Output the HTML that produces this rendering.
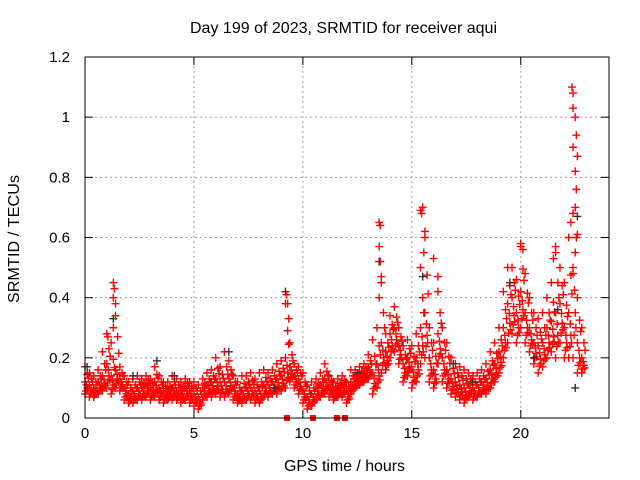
<!DOCTYPE html>
<html><head><meta charset="utf-8"><style>
body{margin:0;background:#fff}
svg{display:block;font-family:"Liberation Sans",sans-serif}
</style></head><body>
<svg id="c" width="640" height="480">
<text x="343.5" y="33" font-size="16" text-anchor="middle" textLength="307">Day 199 of 2023, SRMTID for receiver aqui</text>
<text x="344.5" y="471" font-size="16" text-anchor="middle" textLength="121">GPS time / hours</text>
<text transform="translate(19,239) rotate(-90)" font-size="16" text-anchor="middle" textLength="128">SRMTID / TECUs</text>
<g id="grid"></g><g id="marks"></g><g id="axes"></g>
</svg>
<script>
const xTicks=[0,5,10,15,20];
const yTicks=[0,0.2,0.4,0.6,0.8,1,1.2];
const yTickLabels=["0","0.2","0.4","0.6","0.8","1","1.2"];
const tStep=0.2;
const lo=[.08,.07,.07,.08,.09,.10,.08,.10,.09,.06,.05,.05,.06,.06,.07,.06,.07,.06,.05,.06,.06,.06,.05,.06,.05,.04,.03,.06,.07,.07,.08,.07,.07,.08,.06,.05,.05,.06,.06,.05,.05,.07,.07,.08,.08,.09,.10,.12,.10,.08,.05,.03,.04,.06,.07,.08,.07,.06,.07,.07,.05,.08,.10,.11,.12,.13,.08,.10,.15,.16,.20,.22,.18,.12,.14,.10,.12,.18,.20,.12,.10,.18,.12,.10,.08,.07,.06,.05,.07,.06,.07,.08,.08,.10,.12,.15,.20,.25,.28,.25,.30,.25,.22,.18,.15,.17,.20,.22,.20,.25,.20,.20,.20,.15,.15];
const mid=[.12,.11,.10,.12,.14,.18,.14,.16,.13,.10,.08,.09,.10,.10,.11,.10,.12,.10,.09,.09,.10,.09,.09,.10,.09,.08,.07,.10,.11,.12,.13,.12,.12,.13,.10,.08,.09,.10,.10,.09,.09,.11,.11,.12,.13,.14,.20,.17,.14,.13,.09,.07,.08,.10,.11,.13,.11,.09,.10,.11,.09,.12,.13,.14,.15,.17,.15,.18,.25,.22,.28,.30,.24,.18,.20,.17,.20,.30,.35,.20,.16,.28,.20,.16,.13,.12,.11,.10,.11,.10,.11,.12,.13,.16,.18,.22,.30,.38,.40,.35,.42,.35,.30,.25,.24,.25,.30,.32,.35,.38,.30,.35,.50,.25,.20];
const hi=[.17,.15,.14,.16,.22,.28,.25,.38,.17,.14,.12,.13,.14,.13,.14,.13,.17,.14,.12,.12,.14,.13,.12,.13,.12,.12,.11,.13,.15,.16,.20,.17,.22,.19,.14,.12,.14,.14,.15,.13,.15,.16,.15,.16,.18,.19,.38,.25,.18,.17,.15,.11,.12,.13,.15,.18,.14,.12,.13,.14,.12,.16,.16,.17,.18,.21,.26,.30,.45,.28,.34,.37,.30,.24,.26,.24,.28,.50,.60,.30,.25,.42,.30,.25,.20,.18,.17,.16,.15,.14,.15,.16,.18,.22,.25,.30,.42,.50,.50,.46,.57,.48,.40,.35,.33,.35,.40,.45,.55,.50,.45,.60,.90,.40,.30];
const spikeT=[1.3,1.35,1.3,1.4,1.3,1.05,9.25,9.3,9.35,13.5,13.55,13.5,13.55,13.6,13.5,15.4,15.5,15.45,15.6,15.55,16.0,16.2,20.0,20.1,21.6,21.5,22.35,22.4,22.4,22.5,22.55,22.6,22.5,22.55,22.4,22.6,22.3,22.5,22.4];
const spikeV=[.45,.43,.40,.34,.30,.27,.41,.38,.33,.65,.64,.57,.52,.47,.40,.69,.70,.68,.62,.55,.53,.47,.58,.56,.57,.53,1.10,1.08,1.03,1.00,.94,.87,.82,.76,.68,.61,.65,.55,.48];
const blackT=[0.1,1.3,3.3,4.1,6.6,9.2,12.5,13.5,15.5,16.9,19.5,20.6,21.7,22.5,22.6,8.7,2.2,17.8];
const blackV=[.17,.33,.19,.14,.22,.42,.15,.52,.47,.18,.45,.20,.36,.10,.67,.10,.14,.12];
const zeroT=[9.27,10.46,11.56,11.93];

const X0=85,X1=609,Y0=418,Y1=57,XMAX=24.05,YMAX=1.2;
const xs=v=>X0+(X1-X0)*v/XMAX, ys=v=>Y0-(Y0-Y1)*v/YMAX;
const NS="http://www.w3.org/2000/svg";
function mk(tag,at,parent){const e=document.createElementNS(NS,tag);for(const k in at)e.setAttribute(k,at[k]);parent.appendChild(e);return e;}
const grid=document.getElementById('grid'),marks=document.getElementById('marks'),axes=document.getElementById('axes');
xTicks.forEach((t,i)=>{
  if(t>0){const g=mk('line',{x1:xs(t),x2:xs(t),y1:Y0,y2:Y1,stroke:'#a0a0a0','stroke-dasharray':'2,3'},grid);
  
  }
  const a=mk('line',{x1:xs(t),x2:xs(t),y1:Y0,y2:Y0-8,stroke:'#000'},axes);
  
  
  mk('line',{x1:xs(t),x2:xs(t),y1:Y1,y2:Y1+8,stroke:'#000'},axes);
  const l=mk('text',{x:xs(t),y:Y0+20,'font-size':15,'text-anchor':'middle'},axes);l.textContent=t;
  
  
});
yTicks.forEach((t,i)=>{
  if(t>0&&t<YMAX){const g=mk('line',{x1:X0,x2:X1,y1:ys(t),y2:ys(t),stroke:'#a0a0a0','stroke-dasharray':'2,3'},grid);
  
  }
  const a=mk('line',{x1:X0,x2:X0+8,y1:ys(t),y2:ys(t),stroke:'#000'},axes);
  
  
  mk('line',{x1:X1,x2:X1-8,y1:ys(t),y2:ys(t),stroke:'#000'},axes);
  const l=mk('text',{x:X0-15,y:ys(t)+5,'font-size':15,'text-anchor':'end'},axes);l.textContent=yTickLabels[i];
  
  
});
const fr=mk('rect',{x:X0,y:Y1,width:X1-X0,height:Y0-Y1,fill:'none',stroke:'#000'},axes);


function plus(t,v,c){const x=xs(t),y=ys(v);
  const p=mk('path',{d:`M${x-4},${y}h8M${x},${y-4}v8`,stroke:c,'stroke-width':1.4,fill:'none'},marks);
  
  }
lo.forEach((v,i)=>{const t=i*tStep;
  const a=lo[i],m=mid[i],h=hi[i];
  plus(t,a,'#f00');plus(t,h,'#f00');plus(t,m,'#f00');
  plus(t+0.1,(a+m)/2,'#f00');plus(t+0.1,(m+h)/2,'#f00');
  plus(t+0.05,(a*3+m)/4,'#f00');plus(t+0.15,(m*3+h)/4,'#f00');
  plus(t+0.07,(a+m*3)/4,'#f00');plus(t+0.13,(a*2+m)/3,'#f00');
});
blackT.forEach((t,i)=>plus(t,blackV[i],'#333'));
spikeT.forEach((t,i)=>plus(t,spikeV[i],'#f00'));
zeroT.forEach(t=>{const r=mk('rect',{x:xs(t)-3,y:Y0-3,width:6,height:6,fill:'#f00'},marks);
  
  });
</script>
</body></html>
